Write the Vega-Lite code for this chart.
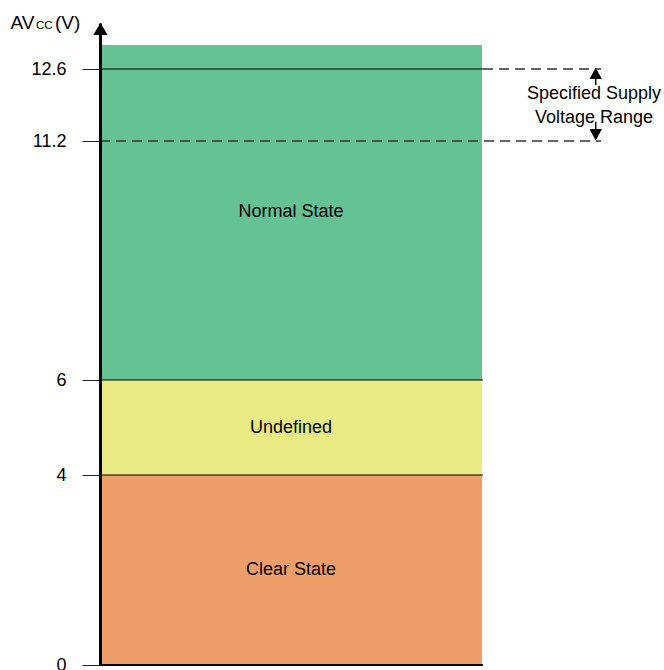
{
  "$schema": "https://vega.github.io/schema/vega-lite/v6.json",
  "width": 564,
  "height": 642,
  "autosize": "none",
  "padding": {"left": 100, "top": 23, "right": 0, "bottom": 5},
  "background": "white",
  "config": {"view": {"stroke": null}, "font": "Liberation Sans", "text": {"font": "Liberation Sans"}},
  "data": {"values": [{}]},
  "datasets": {
    "bands": [
      {"state": "Clear State", "lo": 0, "hi": 4, "mid": 2},
      {"state": "Undefined", "lo": 4, "hi": 6, "mid": 5},
      {"state": "Normal State", "lo": 6, "hi": 13.07, "mid": 9.65}
    ],
    "levels": [{"v": 4}, {"v": 6}, {"v": 12.6}]
  },
  "layer": [
    {
      "data": {"name": "bands"},
      "mark": {"type": "rect"},
      "encoding": {
        "x": {"datum": 0, "type": "quantitative", "scale": {"domain": [0, 564], "nice": false, "zero": false}, "axis": null},
        "x2": {"datum": 382},
        "y": {
          "field": "lo", "type": "quantitative",
          "scale": {"domain": [0, 6, 11.2, 12.6, 13.5], "range": [642, 357, 118, 46, 0], "nice": false, "zero": false},
          "axis": {
            "values": [0, 4, 6, 11.2, 12.6], "title": null, "grid": false, "zindex": 1,
            "domainWidth": 3, "domainColor": "black", "tickSize": 18, "tickColor": "#222", "tickWidth": 1,
            "labelFontSize": 18, "labelColor": "black", "labelPadding": 16, "labelFont": "Liberation Sans",
            "labelOverlap": false, "labelExpr": "'' + datum.value"
          }
        },
        "y2": {"field": "hi"},
        "color": {"field": "state", "type": "nominal", "scale": {"domain": ["Normal State", "Undefined", "Clear State"], "range": ["#65C295", "#E8EA84", "#EF9E69"]}, "legend": null}
      }
    },
    {
      "data": {"name": "levels"},
      "mark": {"type": "rule", "color": "black", "strokeWidth": 1},
      "encoding": {"y": {"field": "v", "type": "quantitative"}, "x": {"datum": 0}, "x2": {"datum": 383}}
    },
    {
      "mark": {"type": "rule", "color": "black", "strokeWidth": 2},
      "encoding": {"y": {"datum": 0}, "x": {"datum": 0}, "x2": {"datum": 383}}
    },
    {
      "mark": {"type": "rule", "color": "#333", "strokeWidth": 1.5, "strokeDash": [10, 6]},
      "encoding": {"y": {"datum": 11.2}, "x": {"datum": 0}, "x2": {"datum": 501}}
    },
    {
      "mark": {"type": "rule", "color": "#333", "strokeWidth": 1.5, "strokeDash": [10, 6]},
      "encoding": {"y": {"datum": 12.6}, "x": {"datum": 383}, "x2": {"datum": 501}}
    },
    {
      "mark": {"type": "rule", "color": "black", "strokeWidth": 1.5},
      "encoding": {"x": {"datum": 495.7}, "y": {"datum": 12.55}, "y2": {"datum": 12.289}}
    },
    {
      "mark": {"type": "rule", "color": "black", "strokeWidth": 1.5},
      "encoding": {"x": {"datum": 495.7}, "y": {"datum": 11.25}, "y2": {"datum": 11.575}}
    },
    {
      "mark": {"type": "point", "shape": "M0,-1L-1.1,1L1.1,1Z", "filled": true, "color": "black", "size": 130, "opacity": 1},
      "encoding": {"x": {"datum": 495.7}, "y": {"datum": 12.515}}
    },
    {
      "mark": {"type": "point", "shape": "M0,1L-1.1,-1L1.1,-1Z", "filled": true, "color": "black", "size": 130, "opacity": 1},
      "encoding": {"x": {"datum": 495.7}, "y": {"datum": 11.322}}
    },
    {
      "mark": {"type": "point", "shape": "M0,-1L-1.17,1L1.17,1Z", "filled": true, "color": "black", "size": 150, "opacity": 1},
      "encoding": {"x": {"datum": 0.5}, "y": {"datum": 13.383}}
    },
    {
      "data": {"name": "bands"},
      "mark": {"type": "text", "fontSize": 18, "color": "black", "align": "center", "baseline": "middle"},
      "encoding": {"text": {"field": "state"}, "y": {"field": "mid", "type": "quantitative"}, "x": {"datum": 191}}
    },
    {
      "mark": {"type": "text", "fontSize": 18, "color": "black", "align": "center", "baseline": "alphabetic", "text": "Specified Supply"},
      "encoding": {"x": {"datum": 494}, "y": {"datum": 12.011}}
    },
    {
      "mark": {"type": "text", "fontSize": 18, "color": "black", "align": "center", "baseline": "alphabetic", "text": "Voltage Range"},
      "encoding": {"x": {"datum": 494}, "y": {"datum": 11.556}}
    },
    {
      "mark": {"type": "text", "fontSize": 19, "color": "black", "align": "left", "baseline": "alphabetic", "text": "AV"},
      "encoding": {"x": {"datum": -89.5}, "y": {"datum": 13.377}}
    },
    {
      "mark": {"type": "text", "fontSize": 11.5, "color": "black", "align": "left", "baseline": "alphabetic", "text": "CC"},
      "encoding": {"x": {"datum": -64}, "y": {"datum": 13.377}}
    },
    {
      "mark": {"type": "text", "fontSize": 19, "color": "black", "align": "left", "baseline": "alphabetic", "text": "(V)"},
      "encoding": {"x": {"datum": -45}, "y": {"datum": 13.377}}
    }
  ]
}
